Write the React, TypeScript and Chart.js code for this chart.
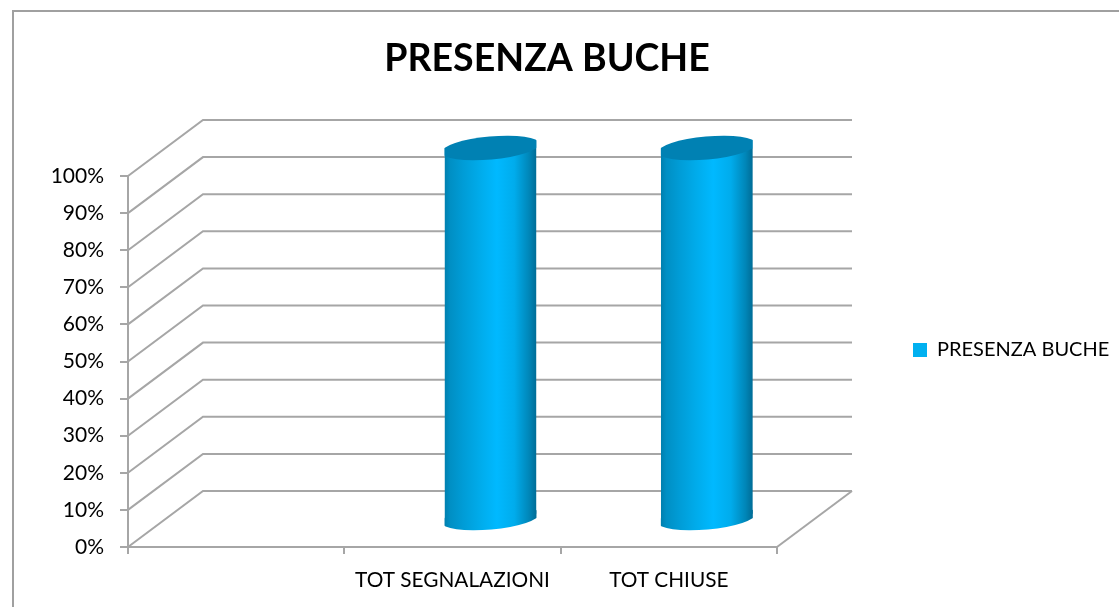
import React, { useEffect, useRef } from "react";
import { Chart, registerables } from "chart.js";

Chart.register(...registerables);

const categories = ["", "TOT SEGNALAZIONI", "TOT CHIUSE"];
const seriesName = "PRESENZA BUCHE";
const seriesValues: (number | null)[] = [null, 100, 100];
const chartTitle = "PRESENZA BUCHE";

const FONT = "Lato";
const GRAY = "#A6A6A6";
const DX = 75;
const DY = 56;
const TILT = -0.09;
const CAP_RY = 11.5;
const CAP_STRETCH = 1.07;

function cylinderGradient(ctx: CanvasRenderingContext2D, l: number, r: number) {
  const g = ctx.createLinearGradient(l, 0, r, 0);
  g.addColorStop(0, "#007FAE");
  g.addColorStop(0.06, "#008FC4");
  g.addColorStop(0.2, "#009CD6");
  g.addColorStop(0.38, "#00ABEA");
  g.addColorStop(0.57, "#00B9FF");
  g.addColorStop(0.76, "#00ACEC");
  g.addColorStop(0.92, "#0086B8");
  g.addColorStop(1, "#006C96");
  return g;
}

function capPath(c: CanvasRenderingContext2D, x: number, y: number, rx: number) {
  c.ellipse(x, y, rx * CAP_STRETCH, CAP_RY, TILT, 0, Math.PI * 2);
}

const scene3d = {
  id: "scene3d",
  afterLayout(chart: any) {
    const t = chart.titleBlock;
    t.left = 0;
    t.right = 1094;
    const lg = chart.legend;
    lg.left = 903;
    lg.right = 1119;
    lg.top = 330;
    lg.bottom = 364;
  },
  beforeDraw(chart: any) {
    const c = chart.ctx;
    c.save();
    c.fillStyle = "#FFFFFF";
    c.fillRect(0, 0, chart.width, chart.height);
    c.strokeStyle = "#A0A0A0";
    c.lineWidth = 2;
    c.beginPath();
    c.moveTo(13, chart.height);
    c.lineTo(13, 11);
    c.lineTo(chart.width, 11);
    c.stroke();
    c.restore();
  },
  beforeDatasetsDraw(chart: any) {
    const c = chart.ctx;
    const { left, right, bottom } = chart.chartArea;
    const y = chart.scales.y;
    c.save();
    c.strokeStyle = GRAY;
    c.lineWidth = 2;
    y.ticks.forEach((t: any) => {
      const py = y.getPixelForValue(t.value);
      c.beginPath();
      c.moveTo(left, py);
      c.lineTo(left + DX, py - DY);
      c.lineTo(right + DX, py - DY);
      c.stroke();
    });
    c.beginPath();
    c.moveTo(right, bottom);
    c.lineTo(right + DX, bottom - DY);
    c.stroke();
    c.restore();
  },
  beforeDatasetDraw(chart: any, args: any) {
    const c = chart.ctx;
    c.save();
    c.translate(DX / 2 + 0.5, -DY / 2);
    c.beginPath();
    args.meta.data.forEach((el: any, i: number) => {
      if (seriesValues[i] == null) return;
      const p = el.getProps(["x", "y", "base", "width"], true);
      const l = p.x - p.width / 2;
      const r = p.x + p.width / 2;
      const slope = Math.tan(-TILT) * (p.width / 2);
      c.moveTo(l, p.y);
      c.lineTo(r, p.y);
      c.lineTo(r, p.base - slope);
      c.lineTo(l, p.base + slope);
      c.closePath();
    });
    c.clip();
  },
  afterDatasetDraw(chart: any, args: any) {
    const c = chart.ctx;
    c.restore();
    c.save();
    c.translate(DX / 2 + 0.5, -DY / 2);
    args.meta.data.forEach((el: any, i: number) => {
      if (seriesValues[i] == null) return;
      const p = el.getProps(["x", "y", "base", "width"], true);
      const rx = p.width / 2;
      c.save();
      c.beginPath();
      c.rect(p.x - rx, 0, p.width, chart.height);
      c.clip();
      c.fillStyle = cylinderGradient(c, p.x - rx, p.x + rx);
      c.beginPath();
      capPath(c, p.x, p.base, rx);
      c.fill();
      c.fillStyle = "#0081B3";
      c.beginPath();
      capPath(c, p.x, p.y, rx);
      c.fill();
      c.restore();
    });
    c.restore();
  },
};

export default function App() {
  const ref = useRef<HTMLCanvasElement>(null);
  useEffect(() => {
    const chart = new Chart(ref.current!, {
      type: "bar",
      data: {
        labels: categories,
        datasets: [
          {
            label: seriesName,
            data: seriesValues,
            categoryPercentage: 1,
            barPercentage: 0.425,
            borderWidth: 0,
            backgroundColor: (ctx: any) => {
              const s = ctx.chart.scales.x;
              if (!s || ctx.dataIndex === undefined) return "#00B0F0";
              const cx = s.getPixelForValue(ctx.dataIndex);
              const rx = (s.width / categories.length) * 0.2125;
              return cylinderGradient(ctx.chart.ctx, cx - rx, cx + rx);
            },
          },
        ],
      },
      options: {
        responsive: false,
        animation: false,
        layout: { padding: { left: 0, right: 342, top: 0, bottom: 0 } },
        scales: {
          x: {
            afterFit: (s: any) => {
              s.height = 60;
            },
            border: { color: GRAY, width: 2 },
            grid: { drawOnChartArea: false, drawTicks: true, tickLength: 7, color: GRAY, lineWidth: 2, offset: true },
            ticks: {
              color: "#000000",
              font: { family: FONT, size: 20.8 },
              padding: 14,
              autoSkip: false,
              maxRotation: 0,
            },
          },
          y: {
            min: 0,
            max: 100,
            afterFit: (s: any) => {
              s.width = 128;
            },
            border: { color: GRAY, width: 2 },
            grid: { drawOnChartArea: false, drawTicks: true, tickLength: 8, color: GRAY, lineWidth: 2 },
            ticks: {
              stepSize: 10,
              color: "#000000",
              font: { family: FONT, size: 21 },
              padding: 16,
              callback: (v: any) => v + "%",
            },
          },
        },
        plugins: {
          title: {
            display: true,
            text: chartTitle,
            color: "#000000",
            font: { family: FONT, size: 37.5, weight: "bold" },
            padding: { top: 36, bottom: 95 },
          },
          legend: {
            position: "chartArea",
            align: "start",
            labels: {
              boxWidth: 14,
              boxHeight: 14,
              padding: 10,
              color: "#000000",
              font: { family: FONT, size: 20 },
              generateLabels: () => [
                { text: seriesName, fillStyle: "#00B0F0", strokeStyle: "#00B0F0", lineWidth: 0, datasetIndex: 0 },
              ],
            },
          },
          tooltip: { enabled: false },
        },
      } as any,
      plugins: [scene3d as any],
    });
    return () => chart.destroy();
  }, []);
  return (
    <canvas
      ref={ref}
      width={1119}
      height={607}
      style={{ position: "fixed", left: 0, top: 0, display: "block" }}
    />
  );
}
